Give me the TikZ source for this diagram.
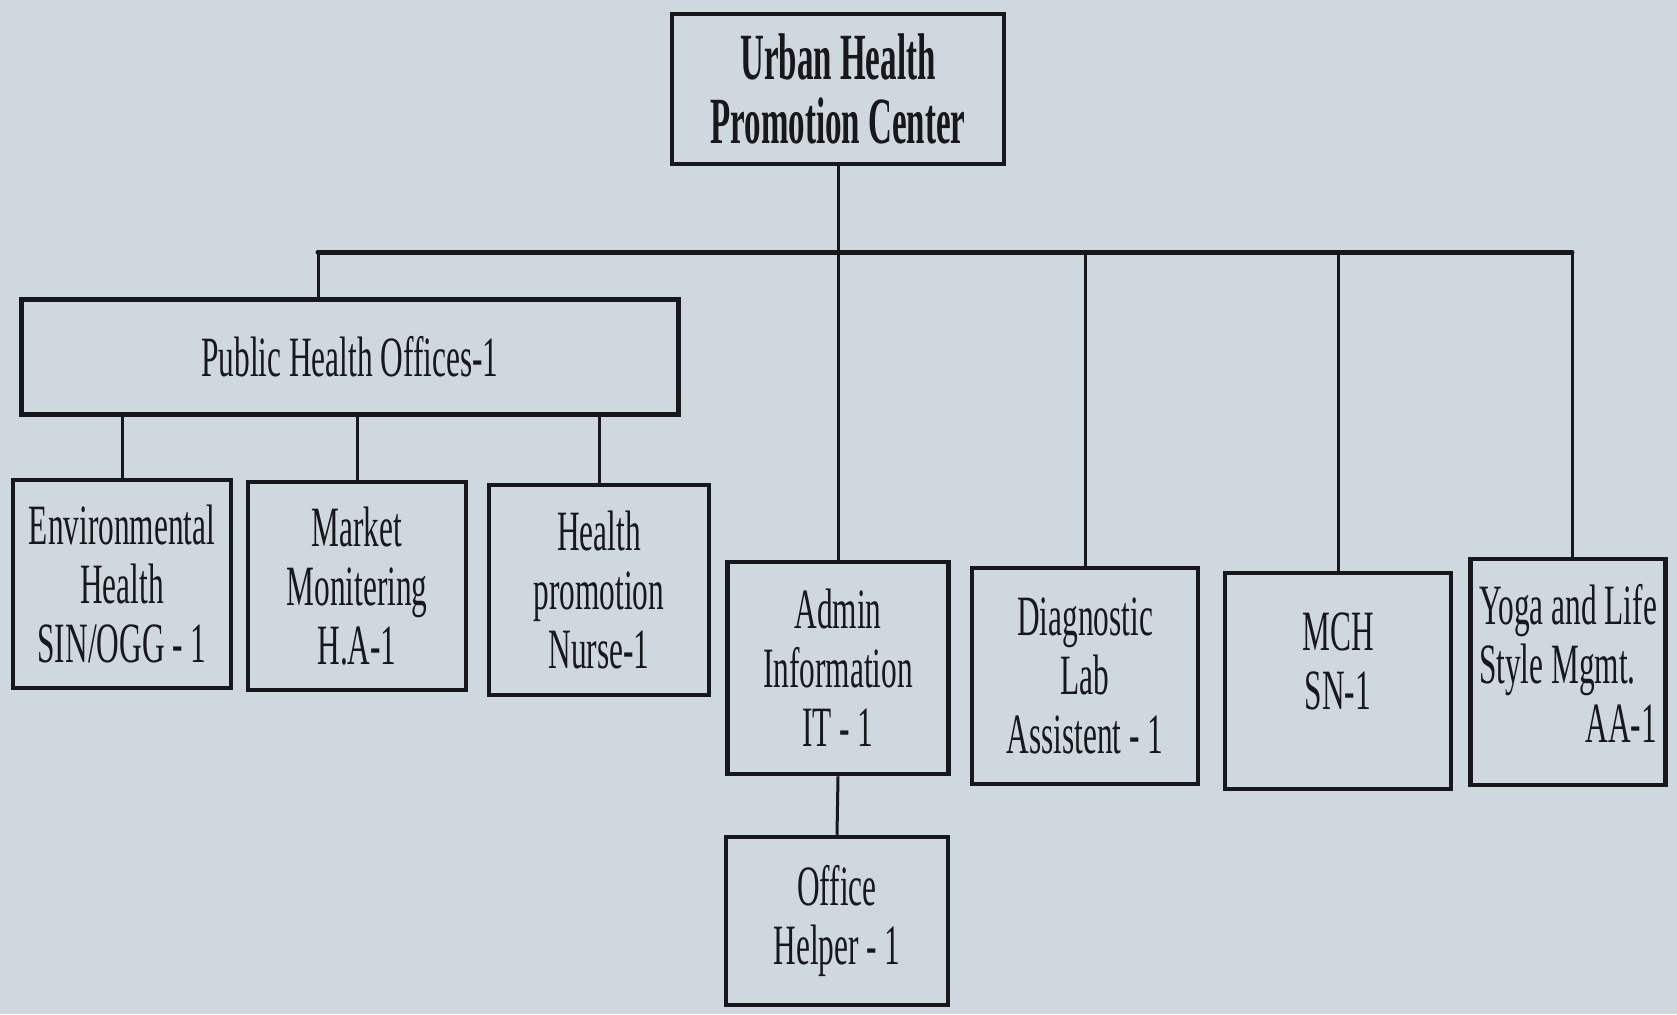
\documentclass[tikz,border=0pt]{standalone}
\usepackage{fontspec}
\setmainfont{Liberation Serif}[FakeStretch=0.55]
\newfontfamily\headfont{Liberation Serif}[FakeStretch=0.5]
\begin{document}
\begin{tikzpicture}[x=1pt,y=-1pt,
  paper/.style={fill=bgpaper},
  ink/.style={draw=inkc},
  box/.style={ink, line width=4.5pt, rectangle, inner sep=0pt, align=center,
    text=inkc, font=\fontsize{57}{59}\selectfont},
  headbox/.style={box, font=\headfont\bfseries\fontsize{66}{64}\selectfont},
  link/.style={ink, line width=3pt},
  bus/.style={ink, line width=5pt, line cap=round},
]
\definecolor{bgpaper}{RGB}{207,215,223}
\definecolor{inkc}{RGB}{24,24,28}
\path[paper] (0,0) rectangle (1677,1014);
\useasboundingbox (0,0) rectangle (1677,1014);

% top of the chart
\node[headbox, minimum width=332, minimum height=150] (uhpc) at (838,89)
  {Urban Health\\Promotion Center};

% second level
\node[box, minimum width=657, minimum height=115] (pho) at (350,357)
  {Public Health Offices-1};

% units under the public health office
\node[box, minimum width=218, minimum height=208] (env) at (122,584)
  {Environmental\\Health\\SIN/OGG - 1};
\node[box, minimum width=218, minimum height=208] (mkt) at (357,586)
  {Market\\Monitering\\H.A-1};
\node[box, minimum width=220, minimum height=210] (hpn) at (599,590)
  {Health\\promotion\\Nurse-1};

% units hanging from the main bus
\node[box, minimum width=221, minimum height=212] (adm) at (838,668)
  {Admin\\Information\\IT - 1};
\node[box, minimum width=226, minimum height=216] (diag) at (1085,676)
  {Diagnostic\\Lab\\Assistent - 1};
\node[box, minimum width=226, minimum height=216,
  label={[align=center, text=inkc, font=\fontsize{57}{59}\selectfont, yshift=20pt]center:MCH\\SN-1}]
  (mch) at (1338,681) {};
\node[box, minimum width=195, minimum height=226] (yoga) at (1568,672)
  {\begin{tabular}{@{}l@{}}Yoga and Life\\Style Mgmt.\\\multicolumn{1}{@{}r@{}}{AA-1}\end{tabular}};

% below admin
\node[box, minimum width=222, minimum height=168] (help) at (837,921)
  {Office\\Helper - 1};

% connectors
\coordinate (busL) at (318,252);
\coordinate (busR) at (1572,252);
\draw[link] (uhpc.south) -- (adm.north);
\draw[bus] (busL) -- (busR);
\draw[link] (busL) -- (busL |- pho.north);
\draw[link] (diag.north |- busL) -- (diag.north);
\draw[link] (mch.north |- busL) -- (mch.north);
\draw[link] (busR) -- (busR |- yoga.north);
\draw[link] (env.north |- pho.south) -- (env.north);
\draw[link] (mkt.north |- pho.south) -- (mkt.north);
\draw[link] (hpn.north |- pho.south) -- (hpn.north);
\draw[link] (adm.south) -- (help.north);
\end{tikzpicture}
\end{document}
